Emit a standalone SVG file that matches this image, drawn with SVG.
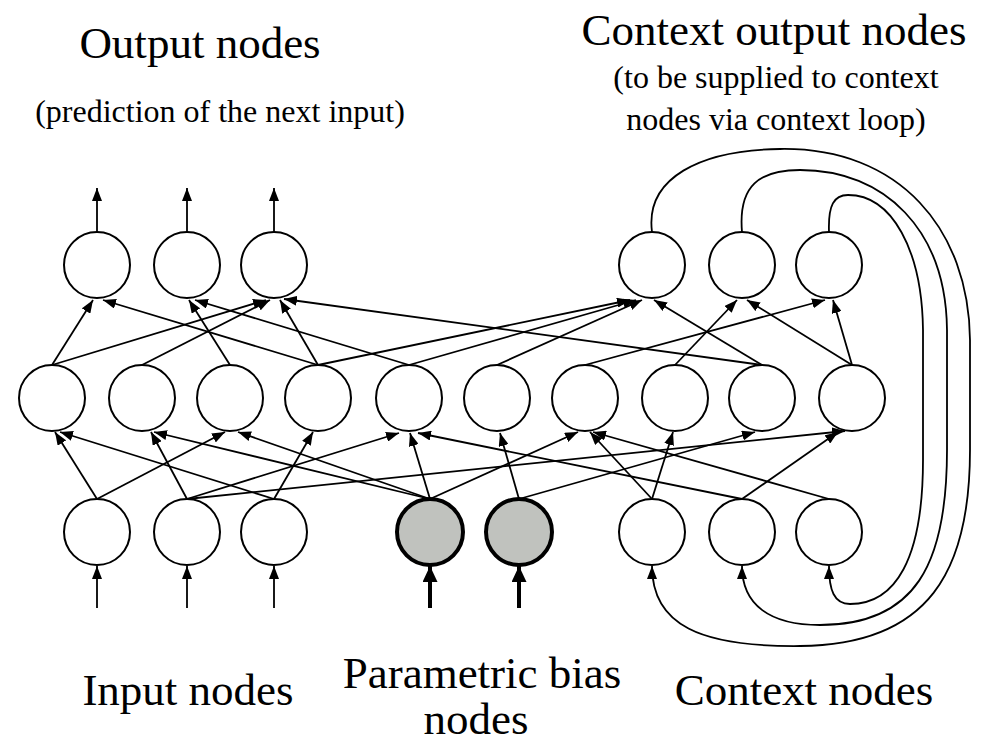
<svg xmlns="http://www.w3.org/2000/svg" width="987" height="748" viewBox="0 0 987 748">
<defs>
<marker id="ah" markerUnits="userSpaceOnUse" markerWidth="13" markerHeight="10" refX="13" refY="5" orient="auto"><path d="M0,0 L13,5 L0,10 z" fill="#000"/></marker>
<marker id="ahb" markerUnits="userSpaceOnUse" markerWidth="16" markerHeight="15" refX="16" refY="7.5" orient="auto"><path d="M0,0 L16,7.5 L0,15 z" fill="#000"/></marker>
<style>
.n{fill:#fff;stroke:#000;stroke-width:2}
.pb{fill:#c0c2be;stroke:#000;stroke-width:4}
.c line,.c path{stroke:#000;stroke-width:1.8;fill:none;marker-end:url(#ah)}
.c .thick{stroke-width:4;marker-end:url(#ahb)}
.t{font-family:"Liberation Serif","Times New Roman",serif;text-anchor:middle;fill:#000}
.big{font-size:45px}
.sub{font-size:32px}
</style>
</defs>
<rect width="987" height="748" fill="#fff"/>
<g id="connectors" class="c">
<line x1="52" y1="365" x2="93" y2="300"/>
<line x1="52" y1="365" x2="266" y2="300"/>
<line x1="142" y1="365" x2="270" y2="300"/>
<line x1="230" y1="365" x2="189" y2="300"/>
<line x1="318" y1="365" x2="103" y2="300"/>
<line x1="318" y1="365" x2="280" y2="300"/>
<line x1="318" y1="365" x2="630" y2="300"/>
<line x1="409" y1="365" x2="195" y2="300"/>
<line x1="409" y1="365" x2="636" y2="300"/>
<line x1="497" y1="365" x2="642" y2="300"/>
<line x1="585" y1="365" x2="825" y2="300"/>
<line x1="675" y1="365" x2="737" y2="300"/>
<line x1="762" y1="365" x2="654" y2="300"/>
<line x1="762" y1="365" x2="284" y2="299"/>
<line x1="852" y1="365" x2="747" y2="300"/>
<line x1="852" y1="365" x2="833" y2="300"/>
<line x1="97" y1="499" x2="55" y2="432"/>
<line x1="97" y1="499" x2="225" y2="432"/>
<line x1="187" y1="499" x2="151" y2="432"/>
<line x1="187" y1="499" x2="399" y2="433"/>
<line x1="187" y1="499" x2="845" y2="431"/>
<line x1="274" y1="499" x2="60" y2="432"/>
<line x1="274" y1="499" x2="313" y2="432"/>
<line x1="430" y1="499" x2="154" y2="432"/>
<line x1="430" y1="499" x2="238" y2="432"/>
<line x1="430" y1="499" x2="410" y2="433"/>
<line x1="430" y1="499" x2="578" y2="432"/>
<line x1="519" y1="499" x2="500" y2="433"/>
<line x1="519" y1="499" x2="755" y2="432"/>
<line x1="652" y1="499" x2="590" y2="432"/>
<line x1="652" y1="499" x2="673" y2="432"/>
<line x1="742" y1="499" x2="418" y2="433"/>
<line x1="742" y1="499" x2="838" y2="432"/>
<line x1="829" y1="499" x2="593" y2="432"/>
<line x1="97" y1="232" x2="97" y2="188"/>
<line x1="187" y1="232" x2="187" y2="188"/>
<line x1="274" y1="232" x2="274" y2="188"/>
<line x1="97" y1="608" x2="97" y2="566"/>
<line x1="187" y1="608" x2="187" y2="566"/>
<line x1="274" y1="608" x2="274" y2="566"/>
<line class="thick" x1="430" y1="608" x2="430" y2="566"/>
<line class="thick" x1="519" y1="608" x2="519" y2="566"/>
<path d="M652,232 C645,178 700,150 780,149 C900,147 969,230 970,340 L970,450 C970,570 930,645 800,646 C700,647 652,625 652,566"/>
<path d="M742,232 C738,185 760,170 800,170 C885,170 946,230 947,330 L947,450 C947,565 915,625 820,625 C770,625 742,605 742,566"/>
<path d="M829,232 C828,205 834,195 848,195 C892,195 922,250 923,330 L923,460 C923,560 895,604 850,604 C834,604 829,590 829,566"/>
</g>
<g id="out1"><circle class="n" cx="97" cy="265" r="33"/></g>
<g id="out2"><circle class="n" cx="187" cy="265" r="33"/></g>
<g id="out3"><circle class="n" cx="274" cy="265" r="33"/></g>
<g id="ctxout1"><circle class="n" cx="652" cy="265" r="33"/></g>
<g id="ctxout2"><circle class="n" cx="742" cy="265" r="33"/></g>
<g id="ctxout3"><circle class="n" cx="829" cy="265" r="33"/></g>
<g id="hid1"><circle class="n" cx="52" cy="398" r="33"/></g>
<g id="hid2"><circle class="n" cx="142" cy="398" r="33"/></g>
<g id="hid3"><circle class="n" cx="230" cy="398" r="33"/></g>
<g id="hid4"><circle class="n" cx="318" cy="398" r="33"/></g>
<g id="hid5"><circle class="n" cx="409" cy="398" r="33"/></g>
<g id="hid6"><circle class="n" cx="497" cy="398" r="33"/></g>
<g id="hid7"><circle class="n" cx="585" cy="398" r="33"/></g>
<g id="hid8"><circle class="n" cx="675" cy="398" r="33"/></g>
<g id="hid9"><circle class="n" cx="762" cy="398" r="33"/></g>
<g id="hid10"><circle class="n" cx="852" cy="398" r="33"/></g>
<g id="in1"><circle class="n" cx="97" cy="532" r="33"/></g>
<g id="in2"><circle class="n" cx="187" cy="532" r="33"/></g>
<g id="in3"><circle class="n" cx="274" cy="532" r="33"/></g>
<g id="pb1"><circle class="pb" cx="430" cy="532" r="33"/></g>
<g id="pb2"><circle class="pb" cx="519" cy="532" r="33"/></g>
<g id="ctx1"><circle class="n" cx="652" cy="532" r="33"/></g>
<g id="ctx2"><circle class="n" cx="742" cy="532" r="33"/></g>
<g id="ctx3"><circle class="n" cx="829" cy="532" r="33"/></g>
<g id="labels">
<text class="t big" x="200" y="58">Output nodes</text>
<text class="t sub" x="220" y="122">(prediction of the next input)</text>
<text class="t big" x="774" y="45">Context output nodes</text>
<text class="t sub" x="776" y="88">(to be supplied to context</text>
<text class="t sub" x="776" y="130">nodes via context loop)</text>
<text class="t big" x="188" y="705">Input nodes</text>
<text class="t big" x="482" y="688">Parametric bias</text>
<text class="t big" x="476" y="734">nodes</text>
<text class="t big" x="804" y="705">Context nodes</text>
</g>
</svg>
